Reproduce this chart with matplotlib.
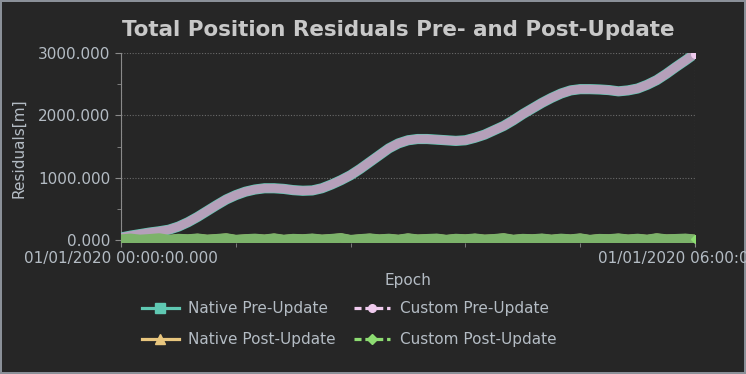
import matplotlib
matplotlib.use("Agg")
import matplotlib.pyplot as plt
from matplotlib.lines import Line2D

# ---- data (hours since 01/01/2020 00:00) ----
hours = [i / 10 for i in range(61)]
pre_update = [40, 70, 95, 120, 140, 165, 215, 285, 370, 465,
              560, 650, 720, 775, 810, 830, 830, 820, 800, 790,
              795, 830, 890, 960, 1040, 1140, 1250, 1360, 1470, 1550,
              1600, 1620, 1620, 1610, 1600, 1590, 1600, 1640, 1690, 1760,
              1830, 1920, 2020, 2110, 2200, 2280, 2350, 2400, 2420, 2420,
              2415, 2405, 2385, 2400, 2430, 2490, 2565, 2665, 2775, 2880,
              2990]
post_update = [12, 25, 8, 18, 30, 5, 22, 14, 27, 9,
               19, 31, 6, 16, 24, 11, 29, 7, 21, 15,
               26, 10, 20, 33, 4, 17, 28, 13, 23, 8,
               30, 12, 19, 25, 6, 22, 14, 27, 10, 18,
               32, 7, 21, 15, 26, 9, 24, 13, 29, 5,
               20, 16, 28, 11, 23, 8, 31, 14, 19, 25,
               10]
x_tick_pos = [0, 6]
x_tick_labels = ["01/01/2020 00:00:00.000", "01/01/2020 06:00:00.000"]
x_minor = [1.2, 2.4, 3.6, 4.8]
y_ticks = [0, 1000, 2000, 3000]
y_minor = [500, 1500, 2500]
series_names = ["Native Pre-Update", "Native Post-Update",
                "Custom Pre-Update", "Custom Post-Update"]

BG = "#262626"
TXT = "#b4bcc4"
TEAL = "#5fc8b2"
MAUVE = "#b5a0ba"
PINK = "#f0cbee"
TAN = "#e8c67e"
GREEN = "#7cb36a"
LGREEN = "#8ddc72"

fig = plt.figure(figsize=(7.46, 3.74), dpi=100, facecolor=BG)
fig.patch.set_edgecolor("#8a9098")
fig.patch.set_linewidth(1.5)
ax = fig.add_axes([121/746, 1-242.5/374, (695-121)/746, (242.5-53)/374])
ax.set_facecolor(BG)

ax.plot(hours, pre_update, color=TEAL, lw=7.3, solid_capstyle="round", zorder=3)
ax.plot(hours, pre_update, color=MAUVE, lw=6.4, solid_capstyle="round", zorder=4)
ax.plot(hours, post_update, color=TAN, lw=6.5, zorder=3)
ax.plot(hours, post_update, color=GREEN, lw=7.0, zorder=5)
ax.plot([hours[-1]], [pre_update[-1]], "o", color=PINK, ms=5.5, zorder=6)
ax.plot([hours[-1]], [post_update[-1]], "D", color=LGREEN, ms=4, zorder=6)

ax.set_xlim(0, 6)
ax.set_ylim(-40, 3000)
ax.set_xticks(x_tick_pos)
ax.set_xticklabels(x_tick_labels)
ax.set_xticks(x_minor, minor=True)
ax.set_yticks(y_ticks)
ax.set_yticklabels([f"{v:.3f}" for v in y_ticks])
ax.set_yticks(y_minor, minor=True)

for s in ["top", "right", "bottom"]:
    ax.spines[s].set_visible(False)
ax.spines["left"].set_color("#8a8a8a")
ax.tick_params(axis="both", which="both", colors="#8a8a8a", labelcolor=TXT,
               labelsize=11)
ax.tick_params(axis="y", which="major", length=4)
ax.tick_params(axis="y", which="minor", length=3)
ax.tick_params(axis="x", which="both", length=3, pad=3)
ax.grid(True, which="major", color="#6a6a6a", linestyle=(0, (1, 1.5)), lw=0.8)

ax.set_title("Total Position Residuals Pre- and Post-Update", color="#c8c8c8",
             fontsize=15.4, fontweight="bold", pad=12, x=0.483)
ax.set_xlabel("Epoch", color=TXT, fontsize=11, labelpad=5)
ax.set_ylabel("Residuals[m]", color=TXT, fontsize=11, labelpad=8.5)

handles = [
    Line2D([], [], color=TEAL, lw=2.3, marker="s", ms=6.5, mfc=TEAL, mec=TEAL),
    Line2D([], [], color=TAN, lw=2.3, marker="^", ms=6.5, mfc=TAN, mec=TAN),
    Line2D([], [], color=PINK, lw=2.3, ls=(0, (2.2, 1.2)), marker="o", ms=5.5, mfc=PINK, mec=PINK),
    Line2D([], [], color=LGREEN, lw=2.3, ls=(0, (2.2, 1.2)), marker="D", ms=4.8, mfc=LGREEN, mec=LGREEN),
]
leg = fig.legend(handles, series_names, loc="center", ncol=2,
                 bbox_to_anchor=(0.468, 0.134), frameon=False, fontsize=11,
                 labelcolor=TXT, handlelength=2.4, handletextpad=0.6,
                 columnspacing=1.2, labelspacing=1.05)

fig.savefig("out.png", dpi=100, facecolor=BG, edgecolor=fig.patch.get_edgecolor())
